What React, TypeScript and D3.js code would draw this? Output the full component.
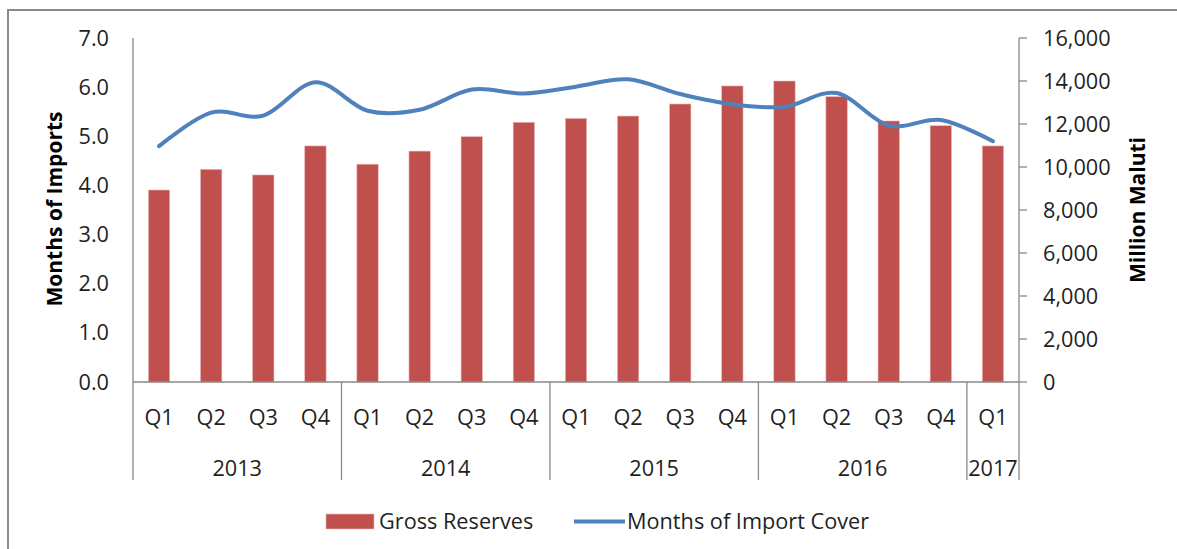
import { useMemo } from "react";
import * as d3 from "d3";

// quarters and years
const quarters = ["Q1", "Q2", "Q3", "Q4", "Q1", "Q2", "Q3", "Q4", "Q1", "Q2", "Q3", "Q4", "Q1", "Q2", "Q3", "Q4", "Q1"];
const years = [
  { label: "2013", count: 4 },
  { label: "2014", count: 4 },
  { label: "2015", count: 4 },
  { label: "2016", count: 4 },
  { label: "2017", count: 1 },
];
// Gross Reserves, million maluti (right axis)
const grossReserves = [8930, 9890, 9630, 10980, 10130, 10740, 11410, 12080, 12260, 12370, 12930, 13770, 14000, 13270, 12140, 11920, 10980];
// Months of Import Cover (left axis)
const importCover = [4.8, 5.48, 5.42, 6.1, 5.52, 5.54, 5.95, 5.87, 6.01, 6.16, 5.86, 5.65, 5.6, 5.88, 5.22, 5.33, 4.9];
const leftTicks = [0, 1, 2, 3, 4, 5, 6, 7];
const rightTicks = [0, 2000, 4000, 6000, 8000, 10000, 12000, 14000, 16000];

const W = 1177;
const H = 549;
const plot = { left: 133, right: 1019, top: 38, bottom: 382 };
const FONT = "'Open Sans', sans-serif";
const FS = 21.7;
const AXIS = "#898989";
const TEXT = "#1f1f1f";
const BAR = "#C0504D";
const LINE = "#4F81BD";

export default function App() {
  const idx = quarters.map((_, i) => i);

  const x = useMemo(
    () => d3.scaleBand<number>().domain(idx).range([plot.left, plot.right]).paddingInner(0.59).paddingOuter(0.295),
    []
  );
  const step = (plot.right - plot.left) / quarters.length;
  const cx = (i: number) => plot.left + step * (i + 0.5);

  const yL = d3.scaleLinear().domain([0, 7]).range([plot.bottom, plot.top]);
  const yR = d3.scaleLinear().domain([0, 16000]).range([plot.bottom, plot.top]);

  const linePath = d3
    .line<number>()
    .x((_, i) => cx(i))
    .y((d) => yL(d))
    .curve(d3.curveCardinal.tension(0))(importCover);

  // year group boundaries
  const bounds: number[] = [0];
  years.forEach((y) => bounds.push(bounds[bounds.length - 1] + y.count));

  const fmt = d3.format(",");

  return (
    <div style={{ position: "absolute", left: 0, top: 0 }}>
      <svg width={W} height={H} style={{ display: "block", background: "#fff" }}>
        {/* outer chart border */}
        <rect x={8} y={10} width={W + 20} height={H + 20} fill="none" stroke="#8a8a8a" strokeWidth={2} />

        {/* bars */}
        {grossReserves.map((v, i) => (
          <rect
            key={i}
            x={x(i)}
            y={yR(v)}
            width={x.bandwidth()}
            height={yR(0) - yR(v)}
            fill={BAR}
            stroke="#e8b9b8"
            strokeWidth={0.6}
          />
        ))}

        {/* line */}
        <path d={linePath || ""} fill="none" stroke={LINE} strokeWidth={4} strokeLinecap="round" />

        {/* left axis */}
        <line x1={plot.left} x2={plot.left} y1={plot.top} y2={plot.bottom} stroke={AXIS} strokeWidth={1.3} />
        {leftTicks.map((t) => (
          <text key={t} x={109} y={yL(t)} dy="0.35em" textAnchor="end" fontFamily={FONT} fontSize={FS} fill={TEXT}>
            {t.toFixed(1)}
          </text>
        ))}
        <text
          transform={`translate(55,209) rotate(-90)`}
          textAnchor="middle"
          dy="0.35em"
          fontFamily={FONT}
          fontSize={21}
          fontWeight="bold"
          fill="#000"
        >
          Months of Imports
        </text>

        {/* right axis */}
        <line x1={plot.right} x2={plot.right} y1={plot.top} y2={plot.bottom} stroke={AXIS} strokeWidth={1.3} />
        {rightTicks.map((t) => (
          <g key={t}>
            <line x1={plot.right} x2={plot.right + 8} y1={yR(t)} y2={yR(t)} stroke={AXIS} strokeWidth={1.3} />
            <text x={1043} y={yR(t)} dy="0.35em" textAnchor="start" fontFamily={FONT} fontSize={FS} fill={TEXT}>
              {fmt(t)}
            </text>
          </g>
        ))}
        <text
          transform={`translate(1138,210) rotate(-90)`}
          textAnchor="middle"
          dy="0.35em"
          fontFamily={FONT}
          fontSize={21}
          fontWeight="bold"
          fill="#000"
        >
          Million Maluti
        </text>

        {/* category axis */}
        <line x1={plot.left} x2={plot.right} y1={plot.bottom} y2={plot.bottom} stroke={AXIS} strokeWidth={1.3} />
        {bounds.map((b, i) => {
          const bx = plot.left + step * b;
          return <line key={i} x1={bx} x2={bx} y1={plot.bottom} y2={480} stroke={AXIS} strokeWidth={1.3} />;
        })}
        {quarters.map((q, i) => (
          <text key={i} x={cx(i)} y={417} dy="0.35em" textAnchor="middle" fontFamily={FONT} fontSize={FS} fill={TEXT}>
            {q}
          </text>
        ))}
        {years.map((y, i) => {
          const mid = plot.left + step * (bounds[i] + y.count / 2);
          return (
            <text key={y.label} x={mid} y={468} dy="0.35em" textAnchor="middle" fontFamily={FONT} fontSize={FS} fill={TEXT}>
              {y.label}
            </text>
          );
        })}

        {/* legend */}
        <rect x={326} y={514} width={48} height={15} fill={BAR} stroke="#e8b9b8" strokeWidth={0.6} />
        <text x={379} y={521.5} dy="0.35em" fontFamily={FONT} fontSize={FS} fill={TEXT}>
          Gross Reserves
        </text>
        <line x1={574} x2={625} y1={521.5} y2={521.5} stroke={LINE} strokeWidth={4} />
        <text x={627} y={521.5} dy="0.35em" fontFamily={FONT} fontSize={FS} fill={TEXT}>
          Months of Import Cover
        </text>
      </svg>
    </div>
  );
}
